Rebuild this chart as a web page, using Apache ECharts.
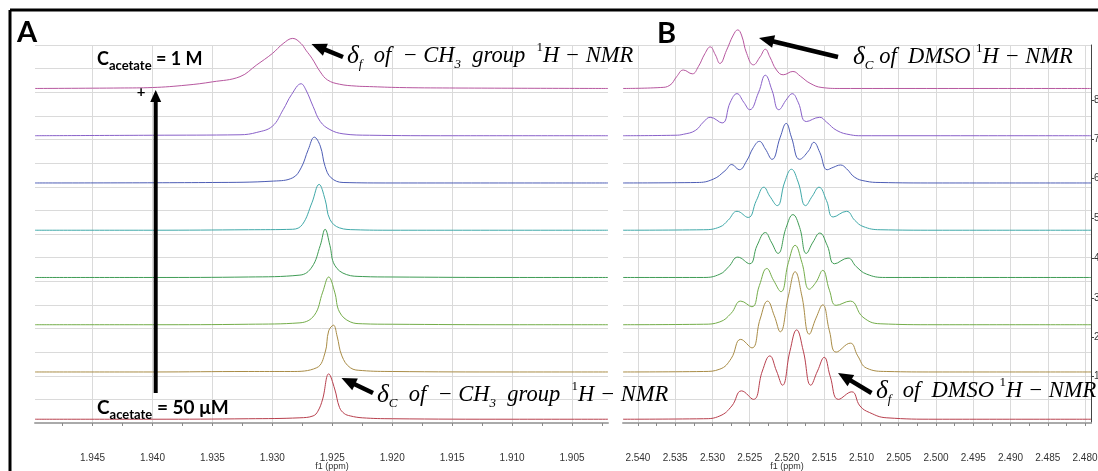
<!DOCTYPE html>
<html><head><meta charset="utf-8">
<script src="https://cdn.jsdelivr.net/npm/echarts@6/dist/echarts.min.js"></script>
<style>html,body{margin:0;padding:0;background:#fff}#c{width:1098px;height:471px}</style>
</head><body><div id="c"></div>
<script>
// ---------- data ----------
// tick labels (ppm)
const ch3TickLabels = [1.945, 1.940, 1.935, 1.930, 1.925, 1.920, 1.915, 1.910, 1.905];
const dmsoTickLabels = [2.540, 2.535, 2.530, 2.525, 2.520, 2.515, 2.510, 2.505, 2.500, 2.495, 2.490, 2.485, 2.480];
const stackLabels = ['1', '2', '3', '4', '5', '6', '7', '8'];
const stackTickValues = [0.98, 1.82, 2.65, 3.49, 4.33, 5.17, 6.00, 6.84];
const ch3Range = [1.9020, 1.9498];
const dmsoRange = [2.4792, 2.5420];

// -CH3 of acetate, spectra 1 (50 uM, bottom) .. 8 (1 M, top): [ppm, intensity]
const ch3_1 = [[1.9498,0],[1.9400,0],[1.9320,0.01],[1.9277,0.03],[1.9266,0.07],[1.9262,0.17],[1.9258,0.43],[1.9253,0.96],[1.9248,0.64],[1.9244,0.25],[1.9240,0.12],[1.9235,0.07],[1.9225,0.03],[1.9200,0.01],[1.9100,0],[1.9020,0]];
const ch3_2 = [[1.9498,0],[1.9400,0],[1.9320,0.01],[1.9285,0.01],[1.9263,0.09],[1.9256,0.41],[1.9253,0.87],[1.9249,0.99],[1.9246,0.76],[1.9242,0.34],[1.9235,0.09],[1.9225,0.03],[1.9200,0.01],[1.9100,0],[1.9020,0]];
const ch3_3 = [[1.9498,0],[1.9400,0],[1.9320,0.01],[1.9277,0.04],[1.9265,0.20],[1.9258,0.69],[1.9253,1.01],[1.9248,0.69],[1.9244,0.27],[1.9235,0.06],[1.9225,0.02],[1.9200,0.01],[1.9100,0],[1.9020,0]];
const ch3_4 = [[1.9498,0],[1.9400,0],[1.9320,0.01],[1.9277,0.05],[1.9267,0.22],[1.9260,0.68],[1.9256,1.02],[1.9252,0.68],[1.9248,0.26],[1.9238,0.06],[1.9225,0.02],[1.9200,0.01],[1.9100,0],[1.9020,0]];
const ch3_5 = [[1.9498,0],[1.9400,0],[1.9320,0.01],[1.9283,0.02],[1.9275,0.12],[1.9267,0.58],[1.9261,0.97],[1.9256,0.65],[1.9252,0.23],[1.9244,0.05],[1.9231,0.01],[1.9200,0],[1.9020,0]];
const ch3_6 = [[1.9498,0],[1.9350,0.01],[1.9299,0.04],[1.9283,0.11],[1.9276,0.32],[1.9270,0.71],[1.9265,0.97],[1.9260,0.78],[1.9256,0.35],[1.9251,0.11],[1.9241,0.01],[1.9200,0],[1.9020,0]];
const ch3_7 = [[1.9498,0],[1.9400,0.01],[1.9327,0.02],[1.9313,0.07],[1.9300,0.20],[1.9291,0.55],[1.9284,0.87],[1.9276,1.10],[1.9272,0.97],[1.9266,0.62],[1.9260,0.30],[1.9252,0.13],[1.9241,0.04],[1.9219,0.01],[1.9150,0],[1.9020,0]];
const ch3_8 = [[1.9498,0],[1.9427,0.01],[1.9400,0.02],[1.9372,0.07],[1.9350,0.14],[1.9327,0.25],[1.9313,0.50],[1.9300,0.74],[1.9291,0.95],[1.9283,1.06],[1.9276,0.95],[1.9272,0.81],[1.9267,0.64],[1.9260,0.35],[1.9254,0.18],[1.9244,0.09],[1.9230,0.05],[1.9219,0.04],[1.9194,0.02],[1.9152,0.01],[1.9020,0]];

// DMSO quintet, spectra 1 (bottom) .. 8 (top): [ppm, intensity]
const dmso_1 = [[2.5420,0],[2.5312,0.01],[2.5290,0.07],[2.5274,0.28],[2.5261,0.60],[2.5245,0.42],[2.5233,1.02],[2.5223,1.34],[2.5214,1.02],[2.5206,0.72],[2.5196,1.44],[2.5187,1.89],[2.5178,1.44],[2.5168,0.72],[2.5159,1.02],[2.5150,1.31],[2.5142,0.91],[2.5131,0.42],[2.5113,0.58],[2.5102,0.28],[2.5089,0.14],[2.5066,0.03],[2.5000,0],[2.4792,0]];
const dmso_2 = [[2.5420,0],[2.5312,0.01],[2.5290,0.06],[2.5275,0.28],[2.5262,0.69],[2.5247,0.51],[2.5236,1.12],[2.5226,1.50],[2.5217,1.19],[2.5209,0.85],[2.5198,1.61],[2.5189,2.12],[2.5180,1.61],[2.5170,0.80],[2.5161,1.14],[2.5152,1.42],[2.5143,0.87],[2.5134,0.42],[2.5115,0.61],[2.5105,0.34],[2.5093,0.08],[2.5066,0.01],[2.5000,0],[2.4792,0]];
const dmso_3 = [[2.5420,0],[2.5312,0.01],[2.5290,0.06],[2.5275,0.24],[2.5262,0.50],[2.5247,0.38],[2.5237,0.83],[2.5227,1.19],[2.5218,0.94],[2.5208,0.70],[2.5198,1.32],[2.5189,1.68],[2.5180,1.32],[2.5170,0.75],[2.5161,0.90],[2.5152,1.15],[2.5143,0.73],[2.5134,0.41],[2.5115,0.50],[2.5098,0.16],[2.5075,0.02],[2.5000,0],[2.4792,0]];
const dmso_4 = [[2.5420,0],[2.5312,0],[2.5290,0.07],[2.5278,0.23],[2.5266,0.43],[2.5250,0.29],[2.5240,0.68],[2.5229,0.95],[2.5221,0.75],[2.5212,0.51],[2.5201,1.06],[2.5192,1.33],[2.5183,1.06],[2.5174,0.51],[2.5165,0.75],[2.5156,0.94],[2.5146,0.68],[2.5136,0.29],[2.5118,0.41],[2.5107,0.23],[2.5093,0.07],[2.5068,0],[2.4792,0]];
const dmso_5 = [[2.5420,0],[2.5312,0.01],[2.5290,0.07],[2.5279,0.21],[2.5267,0.40],[2.5252,0.27],[2.5241,0.63],[2.5231,0.91],[2.5223,0.72],[2.5213,0.52],[2.5203,1.02],[2.5194,1.29],[2.5185,1.02],[2.5175,0.52],[2.5166,0.72],[2.5157,0.91],[2.5147,0.63],[2.5138,0.28],[2.5120,0.40],[2.5109,0.21],[2.5098,0.08],[2.5075,0.01],[2.5000,0],[2.4792,0]];
const dmso_6 = [[2.5420,0],[2.5321,0.01],[2.5299,0.08],[2.5283,0.26],[2.5274,0.39],[2.5264,0.28],[2.5254,0.47],[2.5245,0.75],[2.5237,0.88],[2.5229,0.72],[2.5220,0.50],[2.5209,0.97],[2.5201,1.26],[2.5194,0.97],[2.5183,0.50],[2.5171,0.68],[2.5164,0.86],[2.5156,0.65],[2.5146,0.28],[2.5138,0.33],[2.5128,0.38],[2.5120,0.30],[2.5109,0.12],[2.5095,0.04],[2.5075,0.01],[2.5000,0],[2.4792,0]];
const dmso_7 = [[2.5420,0],[2.5350,0.01],[2.5339,0.03],[2.5323,0.11],[2.5312,0.29],[2.5303,0.39],[2.5287,0.27],[2.5276,0.71],[2.5267,0.89],[2.5258,0.71],[2.5250,0.55],[2.5238,0.92],[2.5229,1.28],[2.5220,0.96],[2.5211,0.55],[2.5200,0.78],[2.5193,0.89],[2.5185,0.71],[2.5174,0.30],[2.5156,0.39],[2.5147,0.29],[2.5133,0.11],[2.5115,0.02],[2.5100,0],[2.4792,0]];
const dmso_8 = [[2.5420,0],[2.5370,0.02],[2.5357,0.07],[2.5348,0.25],[2.5339,0.39],[2.5327,0.31],[2.5319,0.46],[2.5310,0.74],[2.5303,0.88],[2.5296,0.71],[2.5290,0.53],[2.5281,0.81],[2.5272,1.13],[2.5266,1.24],[2.5261,1.13],[2.5254,0.74],[2.5245,0.50],[2.5236,0.67],[2.5229,0.83],[2.5223,0.67],[2.5214,0.39],[2.5205,0.29],[2.5192,0.36],[2.5182,0.26],[2.5169,0.11],[2.5153,0.02],[2.5129,0],[2.4792,0]];

// ---------- build ----------
const ch3Spectra = [ch3_1, ch3_2, ch3_3, ch3_4, ch3_5, ch3_6, ch3_7, ch3_8];
const dmsoSpectra = [dmso_1, dmso_2, dmso_3, dmso_4, dmso_5, dmso_6, dmso_7, dmso_8];
const colors = ['#b8404e', '#a98c46', '#74ad4a', '#3f9c55', '#40a9a9', '#4d5db5', '#8961c9', '#b7579f'];
const baseOffset = 0.08;

function stepValues(lo, hi, step) {
  const a = [];
  for (let k = Math.ceil(lo / step - 1e-6); k * step <= hi + 1e-9; k++) a.push(+(k * step).toFixed(4));
  return a;
}

const labelFont = { fontFamily: "'Liberation Sans', Arial, sans-serif", fontSize: 10, color: '#333' };
const gridLine = { show: true, lineStyle: { color: '#dadada', width: 1 } };

function bottomAxis(gridIndex, range, labels, namePad) {
  return {
    type: 'value', gridIndex, position: 'bottom', inverse: true, min: range[0], max: range[1], offset: 24,
    axisLine: { show: true, lineStyle: { color: '#aaa', width: 2 } },
    axisTick: { show: true, length: 3, lineStyle: { color: '#888' }, customValues: stepValues(range[0], range[1], 0.0025) },
    axisLabel: Object.assign({ margin: 6, customValues: labels, formatter: v => v.toFixed(3) }, labelFont),
    splitLine: { show: false },
    name: 'f1 (ppm)', nameLocation: 'middle', nameGap: 15.5, nameMoveOverlap: false,
    nameTextStyle: { fontFamily: "'Liberation Sans', Arial, sans-serif", fontSize: 9, color: '#333', padding: namePad }
  };
}
function gridAxis(gridIndex, range, labels) {
  return {
    type: 'value', gridIndex, position: 'top', inverse: true, min: range[0], max: range[1],
    axisLine: { show: false }, axisLabel: { show: false },
    axisTick: { show: false, customValues: labels },
    splitLine: gridLine
  };
}
function yGrid(gridIndex) {
  return {
    type: 'value', gridIndex, position: 'left', min: 0, max: 8, interval: 0.5,
    axisLine: { show: false }, axisTick: { show: false }, axisLabel: { show: false }, splitLine: gridLine
  };
}

const series = [];
ch3Spectra.forEach((sp, i) => series.push({
  type: 'line', xAxisIndex: 0, yAxisIndex: 0, showSymbol: false, smooth: 0.4, clip: false,
  lineStyle: { color: colors[i], width: 1 }, z: 3 + i,
  data: sp.map(p => [p[0], p[1] + i + baseOffset])
}));
dmsoSpectra.forEach((sp, i) => series.push({
  type: 'line', xAxisIndex: 2, yAxisIndex: 1, showSymbol: false, smooth: 0.45, clip: false,
  lineStyle: { color: colors[i], width: 1 }, z: 3 + i,
  data: sp.map(p => [p[0], p[1] + i + baseOffset])
}));

// ---------- annotations ----------
const serif = "'Liberation Serif', 'DejaVu Serif', serif";
const sans = "Lato, 'Open Sans', sans-serif";
const richSerif = {
  m: { fontFamily: serif, fontStyle: 'italic', fontSize: 22.5, lineHeight: 30, fill: '#000' },
  d: { fontFamily: serif, fontStyle: 'italic', fontSize: 25.5, lineHeight: 30, fill: '#000' },
  s: { fontFamily: serif, fontStyle: 'italic', fontSize: 13, lineHeight: 13, verticalAlign: 'bottom', fill: '#000' },
  p: { fontFamily: serif, fontSize: 13, lineHeight: 20, verticalAlign: 'top', fill: '#000' }
};
function serifText(x, y, text) {
  return { type: 'text', x, y, z: 100, style: { text, rich: richSerif, verticalAlign: 'middle', align: 'left' } };
}
function concLabel(x, y, text, size) {
  return { type: 'text', x, y, z: 100, style: { text, verticalAlign: 'middle', align: 'left', rich: {
    b: { fontFamily: sans, fontWeight: 'bold', fontSize: size, lineHeight: size + 8, fill: '#000' },
    s: { fontFamily: sans, fontWeight: 'bold', fontSize: Math.round(size * 0.7), lineHeight: Math.round(size * 0.7), verticalAlign: 'bottom', fill: '#000' }
  } } };
}
function arrow(x1, y1, x2, y2, w, hl, hw) {
  const dx = x2 - x1, dy = y2 - y1, L = Math.hypot(dx, dy), ux = dx / L, uy = dy / L;
  const bx = x2 - ux * hl, by = y2 - uy * hl;
  return [
    { type: 'line', z: 100, shape: { x1, y1, x2: bx + ux, y2: by + uy }, style: { stroke: '#000', lineWidth: w } },
    { type: 'polygon', z: 100, shape: { points: [[x2, y2], [bx - uy * hw, by + ux * hw], [bx + uy * hw, by - ux * hw]] }, style: { fill: '#000' } }
  ];
}

const graphics = [
  { type: 'line', z: 100, shape: { x1: 10, y1: 10, x2: 1098, y2: 10 }, style: { stroke: '#000', lineWidth: 3 } },
  { type: 'line', z: 100, shape: { x1: 10, y1: 10, x2: 10, y2: 471 }, style: { stroke: '#000', lineWidth: 3 } },
  { type: 'text', x: 17, y: 33, z: 100, style: { text: 'A', fontFamily: sans, fontWeight: 'bold', fontSize: 29, fill: '#000', verticalAlign: 'middle' } },
  { type: 'text', x: 657, y: 34, z: 100, style: { text: 'B', fontFamily: sans, fontWeight: 'bold', fontSize: 29, fill: '#000', verticalAlign: 'middle' } },
  concLabel(97, 59, '{b|C}{s|acetate}{b| = 1 M}', 18),
  concLabel(97, 408, '{b|C}{s|acetate}{b| = 50 μM}', 19),
  { type: 'text', x: 141, y: 92, z: 100, style: { text: '+', fontFamily: sans, fontWeight: 'bold', fontSize: 15, fill: '#000', align: 'center', verticalAlign: 'middle' } },
  serifText(347, 56, '{d|δ}{s|f}{m|  of  − CH}{s|3}{m|  group  }{p|1}{m|H − NMR}'),
  serifText(853, 57, '{d|δ}{s|C}{m| of  DMSO }{p|1}{m|H − NMR}'),
  serifText(377, 395, '{d|δ}{s|C}{m|  of  − CH}{s|3}{m|  group  }{p|1}{m|H − NMR}'),
  serifText(876, 391, '{d|δ}{s|f}{m|  of  DMSO }{p|1}{m|H − NMR}'),
  ...arrow(343, 57, 311.5, 44, 4.5, 15, 6.5),
  ...arrow(838, 57, 759, 38, 4.5, 15, 6.5),
  ...arrow(373, 393, 341.5, 378, 4.5, 15, 6.5),
  ...arrow(871.5, 393, 838, 373, 4.5, 15, 6.5),
  ...arrow(155.7, 393, 155.7, 90, 4, 12, 5.5)
];

const chart = echarts.init(document.getElementById('c'), null, { renderer: 'canvas' });
chart.setOption({
  animation: false,
  backgroundColor: '#fff',
  grid: [
    { left: 35, right: 490, top: 45, bottom: 48, outerBoundsMode: 'none', containLabel: false },
    { left: 623, right: 7, top: 45, bottom: 48, outerBoundsMode: 'none', containLabel: false }
  ],
  xAxis: [
    bottomAxis(0, ch3Range, ch3TickLabels, [0, 0, 0, 21]),
    gridAxis(0, ch3Range, ch3TickLabels),
    bottomAxis(1, dmsoRange, dmsoTickLabels, [0, 140, 0, 0]),
    gridAxis(1, dmsoRange, dmsoTickLabels)
  ],
  yAxis: [
    yGrid(0),
    yGrid(1),
    {
      type: 'value', gridIndex: 1, position: 'right', min: 0, max: 8,
      axisLine: { show: true, lineStyle: { color: '#444', width: 1 } },
      axisTick: { show: true, length: 3, lineStyle: { color: '#444' }, customValues: stackTickValues },
      axisLabel: Object.assign({ margin: 3, customValues: stackTickValues,
        formatter: v => stackLabels[stackTickValues.indexOf(v)] || '' }, labelFont),
      splitLine: { show: false }
    }
  ],
  series,
  graphic: graphics
});
</script>
</body></html>
